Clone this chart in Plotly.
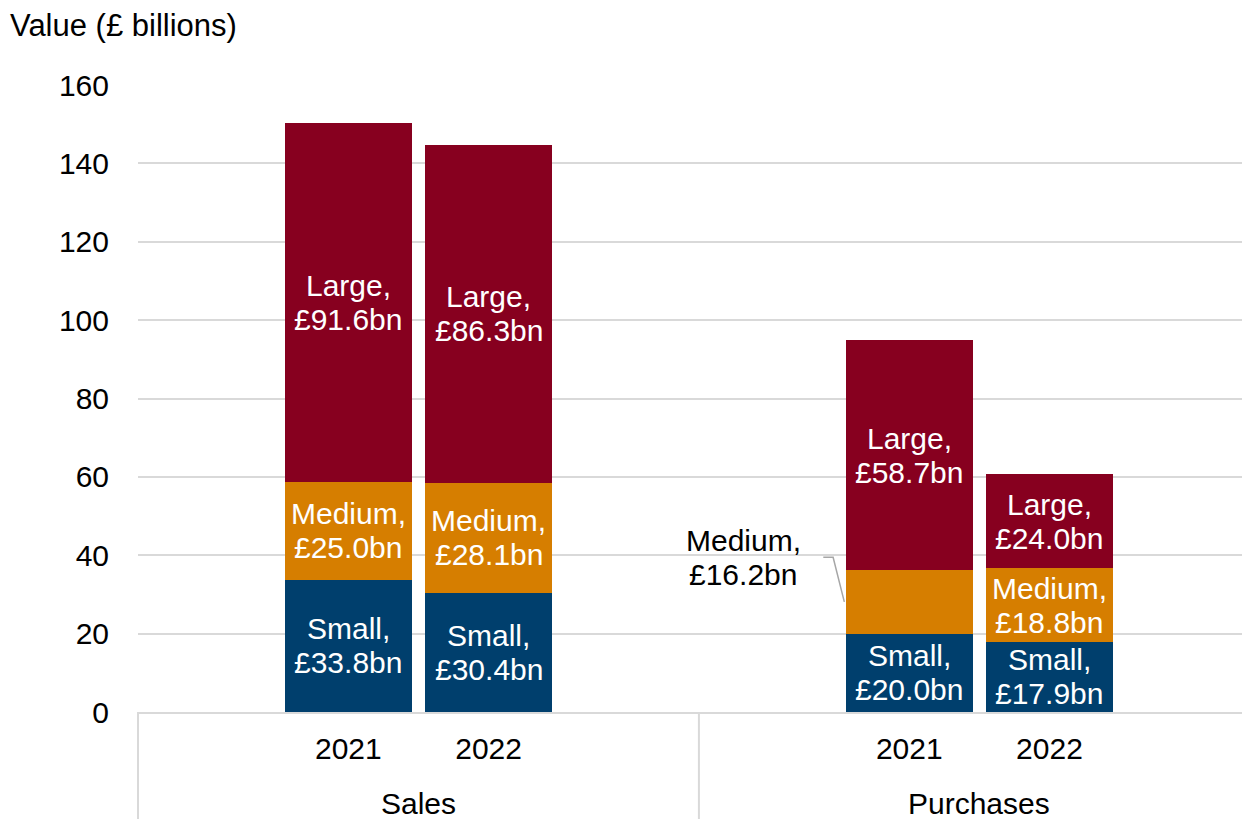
import plotly.graph_objects as go

grupos = ["Sales", "Purchases"]
anos = ["2021", "2022"]
tamanhos = ["Small", "Medium", "Large"]

small = [33.8, 30.4, 20.0, 17.9]
medium = [25.0, 28.1, 16.2, 18.8]
large = [91.6, 86.3, 58.7, 24.0]

CORES = {
    "Small": "#003F6D",
    "Medium": "#D67E00",
    "Large": "#87001F",
}
FONTE = "Liberation Sans, Arial, sans-serif"
GRADE = "#D9D9D9"
TAM = 30

# each group has 4 slots: blank, 2021, 2022, blank
posicoes = []
for g in range(len(grupos)):
    for a in range(len(anos)):
        posicoes.append(g * 4 + 1 + a)
centros_grupo = [g * 4 + 1.5 for g in range(len(grupos))]
divisores = [g * 4 - 0.5 for g in range(len(grupos))]
faixa_x = [-0.5, 7.43]
largura = 0.906

valores = {"Small": small, "Medium": medium, "Large": large}

fig = go.Figure()
for nome in tamanhos:
    fig.add_trace(
        go.Bar(
            x=posicoes,
            y=valores[nome],
            name=nome,
            width=largura,
            marker=dict(color=CORES[nome], line=dict(width=0)),
            showlegend=False,
        )
    )

# labels inside segments (two lines each, tight spacing)
anotacoes = []
for j, pos in enumerate(posicoes):
    base = 0
    for nome in tamanhos:
        v = valores[nome][j]
        centro = base + v / 2
        base += v
        if nome == "Medium" and j == 2:
            continue
        for linha, desloc in [(f"{nome},", 17), (f"£{v:.1f}bn", -17)]:
            anotacoes.append(dict(
                x=pos, y=centro, xref="x", yref="y",
                text=linha, showarrow=False, yshift=desloc,
                font=dict(family=FONTE, size=TAM, color="white"),
            ))

# outside label for Purchases 2021 medium, with leader line
j = 2
borda = posicoes[j] - largura / 2
centro_med = small[j] + medium[j] / 2
y_rotulo = small[j] + medium[j] + 3.3
for linha, desloc in [("Medium,", 17), (f"£{medium[j]:.1f}bn", -17)]:
    anotacoes.append(dict(
        x=borda - 0.73, y=y_rotulo, xref="x", yref="y",
        text=linha, showarrow=False, yshift=desloc,
        font=dict(family=FONTE, size=TAM, color="black"),
    ))
formas = [dict(
    type="path", xref="x", yref="y",
    path=f"M {borda - 0.01},{centro_med} L {borda - 0.09},{y_rotulo} L {borda - 0.16},{y_rotulo}",
    line=dict(color="#A6A6A6", width=1.5),
)]

for c, g in zip(centros_grupo, grupos):
    anotacoes.append(dict(
        x=c, y=0, xref="x", yref="paper", yshift=-91,
        text=g, showarrow=False, yanchor="middle",
        font=dict(family=FONTE, size=TAM, color="black"),
    ))

for d in divisores:
    fx = (d - faixa_x[0]) / (faixa_x[1] - faixa_x[0])
    formas.append(dict(
        type="line", xref="paper", yref="paper",
        x0=fx, x1=fx, y0=0, y1=-107 / 627,
        line=dict(color=GRADE, width=2),
    ))

anotacoes.append(dict(
    x=0, y=1, xref="paper", yref="paper", xshift=-130, yshift=60,
    xanchor="left", yanchor="middle",
    text="Value (£ billions)", showarrow=False,
    font=dict(family=FONTE, size=31, color="black"),
))

# page body adds an 8px margin, so the figure is 8px smaller each way
fig.update_layout(
    width=1242,
    height=811,
    barmode="stack",
    paper_bgcolor="white",
    plot_bgcolor="white",
    margin=dict(l=130, r=0, t=77, b=107),
    font=dict(family=FONTE, size=TAM, color="black"),
    annotations=anotacoes,
    shapes=formas,
)

fig.update_xaxes(
    range=faixa_x,
    tickvals=posicoes,
    ticktext=anos * len(grupos),
    showgrid=False,
    zeroline=False,
    showline=True,
    linecolor=GRADE,
    linewidth=2,
    ticks="",
    ticklabelstandoff=9,
    tickfont=dict(family=FONTE, size=TAM, color="black"),
)

fig.update_yaxes(
    range=[0, 160],
    tickvals=list(range(0, 161, 20)),
    showgrid=True,
    gridcolor=GRADE,
    gridwidth=2,
    zeroline=False,
    ticks="",
    ticklabelstandoff=28,
    tickfont=dict(family=FONTE, size=TAM, color="black"),
)

fig.write_html("out.html")
